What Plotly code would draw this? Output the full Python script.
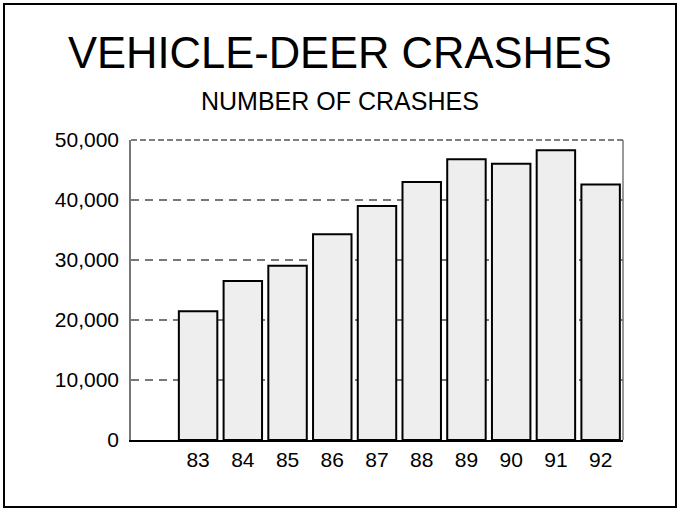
import plotly.graph_objects as go

# vehicle-deer crashes, years 1983-1992
anos = [83, 84, 85, 86, 87, 88, 89, 90, 91, 92]
acidentes = [21450, 26500, 29050, 34300, 39000, 43000, 46800, 46050, 48300, 42600]
y_ticks = [0, 10000, 20000, 30000, 40000, 50000]
y_labels = ["0", "10,000", "20,000", "30,000", "40,000", "50,000"]

fonte = "Liberation Sans, Arial, Helvetica, sans-serif"

fig = go.Figure()

fig.add_trace(go.Bar(
    x=anos,
    y=acidentes,
    width=0.86,
    marker=dict(color="#eeeeee", line=dict(color="black", width=2)),
    hoverinfo="x+y",
))

fig.update_layout(
    width=679,
    height=510,
    margin=dict(l=131, r=56, t=140, b=70),
    paper_bgcolor="white",
    plot_bgcolor="white",
    showlegend=False,
    font=dict(family=fonte, size=21, color="black"),
)

fig.update_xaxes(
    range=[81.5, 92.5],
    tickmode="array",
    tickvals=anos,
    ticktext=[str(a) for a in anos],
    showgrid=False,
    showline=True,
    linecolor="black",
    linewidth=1.5,
    ticks="",
    ticklabelstandoff=0,
    tickfont=dict(size=21),
)

fig.update_yaxes(
    range=[0, 50000],
    tickmode="array",
    tickvals=y_ticks,
    ticktext=y_labels,
    showgrid=True,
    gridcolor="#777777",
    gridwidth=1.5,
    griddash="8px,6px",
    zeroline=False,
    showline=True,
    linecolor="#777777",
    linewidth=1.5,
    ticks="",
    ticklabelstandoff=6,
    tickfont=dict(size=21),
)

# top dashed line and right edge of the plot
fig.add_shape(type="line", xref="paper", yref="paper", x0=0, x1=1, y0=1, y1=1,
              line=dict(color="#555555", width=1.5, dash="6px,3px"), layer="below")
fig.add_shape(type="line", xref="paper", yref="paper", x0=1, x1=1, y0=0, y1=1,
              line=dict(color="#777777", width=1.5), layer="below")

# outer frame
fig.add_shape(type="rect", xref="paper", yref="paper",
              x0=(4 - 131) / 492, x1=(676 - 131) / 492,
              y0=(440 - 507) / 300, y1=(440 - 4) / 300,
              line=dict(color="black", width=2))

fig.add_annotation(text="VEHICLE-DEER CRASHES", xref="paper", yref="paper",
                   x=(340 - 131) / 492, y=(440 - 53) / 300, showarrow=False,
                   xanchor="center", yanchor="middle", font=dict(size=43.5))
fig.add_annotation(text="NUMBER OF CRASHES", xref="paper", yref="paper",
                   x=(340 - 131) / 492, y=(440 - 101) / 300, showarrow=False,
                   xanchor="center", yanchor="middle", font=dict(size=25))

# page without the browser's default body margin, no modebar
fig.write_html("out.html", config={"displayModeBar": False},
               post_script="document.body.style.margin='0';")
